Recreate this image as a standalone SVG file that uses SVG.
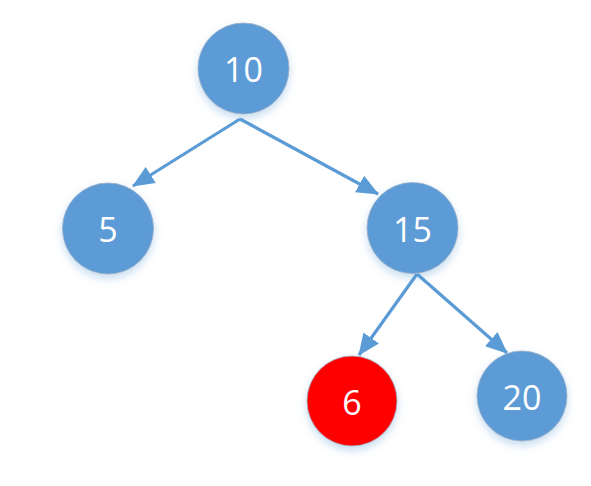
<svg xmlns="http://www.w3.org/2000/svg" width="591" height="486" viewBox="0 0 591 486">
<style>
.node circle{fill:#5B9BD5;stroke:#9fb3c8;stroke-width:0.8;filter:url(#sh)}
.node.red circle{fill:#FF0000}
.node text{fill:#fff;font-family:"Open Sans","Liberation Sans",sans-serif;font-size:34px;text-anchor:middle;dominant-baseline:central}
.edge{stroke:#5B9BD5;stroke-width:3.2;fill:none;marker-end:url(#ah)}
</style>
<defs>
<filter id="sh" x="-30%" y="-30%" width="160%" height="170%">
<feGaussianBlur in="SourceAlpha" stdDeviation="4"/>
<feOffset dy="4" result="b"/>
<feFlood flood-color="#5B9BD5" flood-opacity="0.35"/>
<feComposite in2="b" operator="in"/>
<feMerge><feMergeNode/><feMergeNode in="SourceGraphic"/></feMerge>
</filter>
<marker id="ah" viewBox="0 0 22 19" refX="21" refY="9.5" markerWidth="22" markerHeight="19" markerUnits="userSpaceOnUse" orient="auto">
<path d="M0,0 L22,9.5 L0,19 z" fill="#5B9BD5"/>
</marker>
</defs>
<g id="connectors">
<line class="edge" x1="240" y1="119" x2="133" y2="186"/>
<line class="edge" x1="240" y1="119" x2="378" y2="194"/>
<line class="edge" x1="417" y1="274" x2="359" y2="355"/>
<line class="edge" x1="417" y1="274" x2="507" y2="353"/>
</g>
<g id="n10" class="node"><circle cx="243.5" cy="68.5" r="45.5"/><text x="243.5" y="69">10</text></g>
<g id="n5" class="node"><circle cx="108" cy="228.5" r="45.5"/><text x="108" y="229">5</text></g>
<g id="n15" class="node"><circle cx="412.5" cy="228" r="45.5"/><text x="412.5" y="228.5">15</text></g>
<g id="n6" class="node red"><circle cx="352" cy="401" r="45"/><text x="352" y="401.5">6</text></g>
<g id="n20" class="node"><circle cx="522" cy="396" r="45"/><text x="522" y="396.5">20</text></g>
</svg>
